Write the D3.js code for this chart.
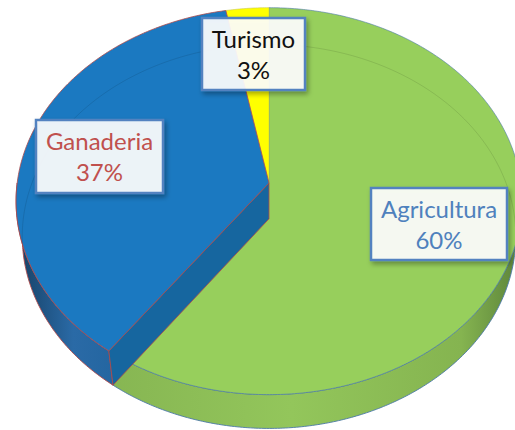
<!DOCTYPE html>
<meta charset="utf-8">
<title>pie</title>
<style>
body { margin: 0; background: #fff; }
svg { display: block; }
.lbl { font-family: Lato, "Open Sans", sans-serif; font-size: 24px; }
</style>
<svg></svg>
<script src="https://d3js.org/d3.v7.min.js"></script>
<script>
var width = 515, height = 430;

var categories = ["Agricultura", "Ganaderia", "Turismo"];
var values = [60, 37, 3];
var percents = ["60%", "37%", "3%"];

var topColors = ["#97cf5c", "#1b79c1", "#ffff00"];
var edgeColors = ["#4c79a8", "#b04a4a", "#c9c94a"];
var textColors = ["#4f81bd", "#c0504d", "#111111"];

// label boxes: [x, y, w, h]
var boxes = [[371, 188, 136, 72], [36, 120, 127, 73], [202, 18, 103, 72]];

// 3d view params
var cx = 269, cy = 183, focal = 1740, dist = 6.91, depth = 0.225;
var tilt = 49.6 * Math.PI / 180;
var sinT = Math.sin(tilt), cosT = Math.cos(tilt);

function proj(a, r, w) {
  var u = r * Math.sin(a), v = -r * Math.cos(a);
  var yc = v * sinT - w * cosT;
  var zc = dist - (v * cosT + w * sinT);
  return [cx + focal * u / zc, cy + focal * yc / zc];
}

function rim(a0, a1, w) {
  var n = Math.max(4, Math.ceil(Math.abs(a1 - a0) / 0.01));
  return d3.range(n + 1).map(i => proj(a0 + (a1 - a0) * i / n, 1, w));
}

var line = d3.line().curve(d3.curveLinearClosed);
var pie = d3.pie().sort(null).value(d => d);
var arcs = pie(values);

var svg = d3.select("svg").attr("width", width).attr("height", height);
var defs = svg.append("defs");

var gSide = defs.append("linearGradient").attr("id", "gside")
  .attr("gradientUnits", "userSpaceOnUse").attr("x1", 100).attr("x2", 525).attr("y1", 0).attr("y2", 0);
gSide.append("stop").attr("offset", 0).attr("stop-color", "#86b552");
gSide.append("stop").attr("offset", 0.45).attr("stop-color", "#93c65b");
gSide.append("stop").attr("offset", 0.85).attr("stop-color", "#85b450");
gSide.append("stop").attr("offset", 1).attr("stop-color", "#587f38");

var bSide = defs.append("linearGradient").attr("id", "bside")
  .attr("gradientUnits", "userSpaceOnUse").attr("x1", 15).attr("x2", 112).attr("y1", 0).attr("y2", 0);
bSide.append("stop").attr("offset", 0).attr("stop-color", "#163f63");
bSide.append("stop").attr("offset", 0.6).attr("stop-color", "#2a6aa6");
bSide.append("stop").attr("offset", 1).attr("stop-color", "#2466a1");

var sideFill = ["url(#gside)", "url(#bside)", "#c8c800"];

var shadow = defs.append("filter").attr("id", "shadow")
  .attr("x", "-20%").attr("y", "-20%").attr("width", "150%").attr("height", "160%");
shadow.append("feDropShadow").attr("dx", 2).attr("dy", 3).attr("stdDeviation", 2.5)
  .attr("flood-color", "#000").attr("flood-opacity", 0.35);

defs.append("clipPath").attr("id", "topclip")
  .append("path").attr("d", line(rim(0, 2 * Math.PI, 0)));

// outer side walls (front half only)
arcs.forEach(function(d, i) {
  var a0 = Math.max(d.startAngle, Math.PI / 2), a1 = Math.min(d.endAngle, 3 * Math.PI / 2);
  if (a1 <= a0) return;
  var pts = rim(a0, a1, 0).concat(rim(a1, a0, -depth));
  svg.append("path").attr("d", line(pts))
    .attr("fill", sideFill[i]).attr("stroke", edgeColors[i]).attr("stroke-width", 0.9);
});

// top faces, blue last with its cut face
var order = [0, 2, 1];
order.forEach(function(i) {
  var d = arcs[i];
  if (i === 1) {
    var a = d.startAngle;
    var face = [proj(a, 0, 0), proj(a, 1, 0), proj(a, 1, -depth), proj(a, 0, -depth)];
    svg.append("path").attr("d", line(face))
      .attr("fill", "#16669f").attr("stroke", edgeColors[i]).attr("stroke-width", 0.8);
  }
  var pts = [proj(0, 0, 0)].concat(rim(d.startAngle, d.endAngle, 0));
  svg.append("path").attr("d", line(pts))
    .attr("fill", topColors[i]).attr("stroke", edgeColors[i]).attr("stroke-width", i === 1 ? 0.8 : 0.6);
});

// faint bottom ring seen through the top
svg.append("path").attr("d", line(rim(0, 2 * Math.PI, -depth)))
  .attr("clip-path", "url(#topclip)")
  .attr("fill", "none").attr("stroke", "#000").attr("stroke-opacity", 0.1).attr("stroke-width", 1);

// labels
var lab = svg.append("g").selectAll("g").data(categories).enter().append("g");
lab.append("rect")
  .attr("x", (d, i) => boxes[i][0]).attr("y", (d, i) => boxes[i][1])
  .attr("width", (d, i) => boxes[i][2]).attr("height", (d, i) => boxes[i][3])
  .attr("fill", "#fff").attr("fill-opacity", 0.9)
  .attr("stroke", "#5282c0").attr("stroke-width", 2.5)
  .attr("filter", "url(#shadow)");
lab.append("text").attr("class", "lbl")
  .attr("x", (d, i) => boxes[i][0] + boxes[i][2] / 2)
  .attr("y", (d, i) => boxes[i][1] + 30)
  .attr("text-anchor", "middle").attr("fill", (d, i) => textColors[i])
  .text(d => d);
lab.append("text").attr("class", "lbl")
  .attr("x", (d, i) => boxes[i][0] + boxes[i][2] / 2)
  .attr("y", (d, i) => boxes[i][1] + 61)
  .attr("text-anchor", "middle").attr("fill", (d, i) => textColors[i])
  .text((d, i) => percents[i]);
</script>
